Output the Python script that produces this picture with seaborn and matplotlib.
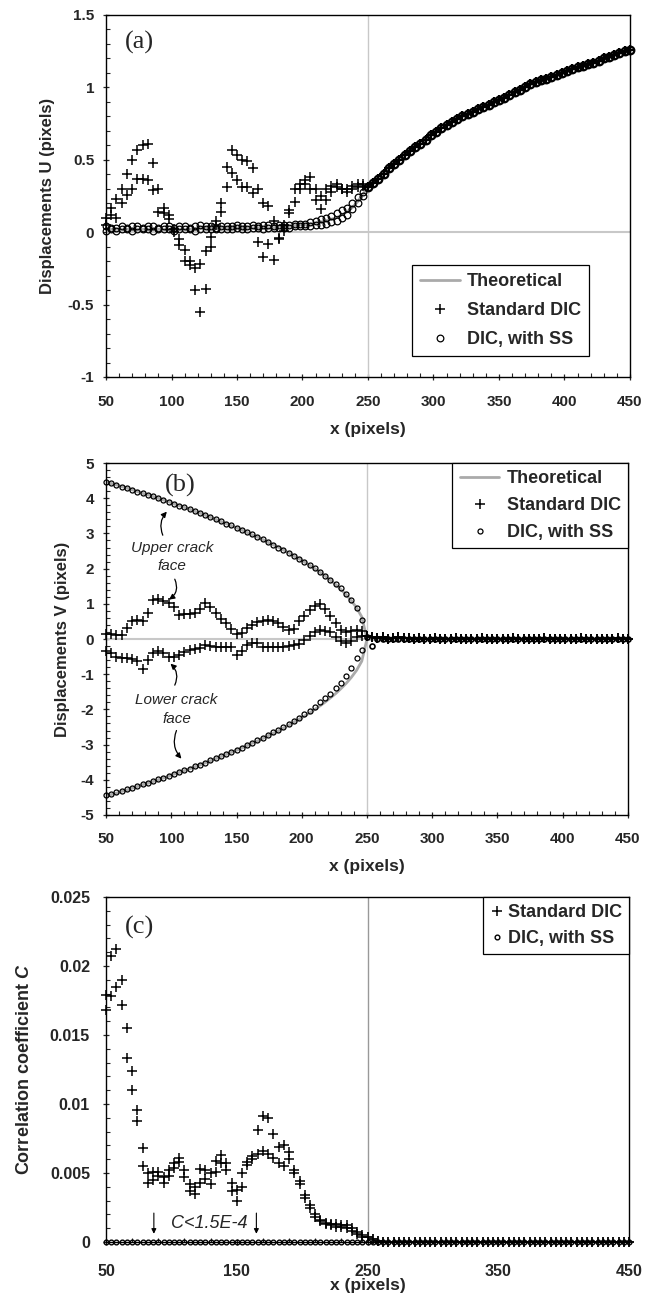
import numpy as np
import matplotlib
matplotlib.use("Agg")
import matplotlib.pyplot as plt
import seaborn as sns
from matplotlib.ticker import MultipleLocator, FuncFormatter

# pixel grid behind the crack tip (two faces) and ahead of it
x_behind = np.arange(50, 250, 4)
x_ahead = np.arange(250, 451, 4)

# ---- (a) displacement U ----
u_std_upper = [0.10, 0.17, 0.23, 0.30, 0.40, 0.50, 0.57, 0.60, 0.61, 0.48,
               0.30, 0.17, 0.12, 0.02, -0.05, -0.12, -0.20, -0.25, -0.22, -0.13,
               -0.03, 0.08, 0.20, 0.45, 0.57, 0.53, 0.50, 0.49, 0.44, 0.30,
               0.20, 0.18, 0.08, -0.04, 0.05, 0.15, 0.30, 0.33, 0.36, 0.38,
               0.30, 0.25, 0.30, 0.32, 0.33, 0.30, 0.30, 0.32, 0.33, 0.33]
u_std_lower = [0.05, 0.12, 0.10, 0.20, 0.26, 0.30, 0.37, 0.37, 0.36, 0.29,
               0.14, 0.13, 0.09, 0.00, -0.09, -0.20, -0.23, -0.40, -0.55, -0.39,
               -0.10, 0.05, 0.14, 0.31, 0.41, 0.36, 0.31, 0.31, 0.27, -0.07,
               -0.17, -0.08, -0.19, -0.05, 0.01, 0.13, 0.21, 0.30, 0.33, 0.30,
               0.22, 0.16, 0.22, 0.28, 0.31, 0.30, 0.28, 0.30, 0.31, 0.32]
u_ss_upper = [0.04, 0.03, 0.03, 0.04, 0.03, 0.04, 0.04, 0.03, 0.04, 0.04,
              0.03, 0.04, 0.04, 0.03, 0.04, 0.04, 0.03, 0.04, 0.05, 0.04,
              0.04, 0.03, 0.04, 0.04, 0.04, 0.05, 0.04, 0.04, 0.05, 0.04,
              0.05, 0.05, 0.04, 0.05, 0.05, 0.05, 0.06, 0.06, 0.06, 0.07,
              0.08, 0.09, 0.10, 0.11, 0.13, 0.15, 0.17, 0.20, 0.24, 0.28]
u_ss_lower = [0.01, 0.02, 0.01, 0.02, 0.02, 0.01, 0.02, 0.02, 0.02, 0.01,
              0.02, 0.02, 0.02, 0.01, 0.02, 0.02, 0.02, 0.01, 0.02, 0.02,
              0.02, 0.02, 0.02, 0.02, 0.02, 0.03, 0.02, 0.02, 0.03, 0.03,
              0.02, 0.03, 0.03, 0.03, 0.03, 0.03, 0.04, 0.04, 0.04, 0.04,
              0.05, 0.05, 0.06, 0.07, 0.08, 0.10, 0.12, 0.16, 0.20, 0.25]
u_theory_behind = [0.02, 0.02, 0.02, 0.02, 0.02, 0.02, 0.02, 0.02, 0.02, 0.02,
                   0.02, 0.02, 0.02, 0.02, 0.02, 0.02, 0.02, 0.02, 0.03, 0.03,
                   0.03, 0.03, 0.03, 0.03, 0.03, 0.03, 0.03, 0.03, 0.03, 0.03,
                   0.03, 0.03, 0.03, 0.04, 0.04, 0.04, 0.045, 0.05, 0.05, 0.055,
                   0.06, 0.07, 0.08, 0.09, 0.10, 0.12, 0.14, 0.17, 0.21, 0.26]
u_ahead = [0.31, 0.34, 0.37, 0.40, 0.44, 0.47, 0.50, 0.53, 0.56, 0.59,
           0.61, 0.64, 0.67, 0.69, 0.72, 0.74, 0.76, 0.78, 0.80, 0.815,
           0.83, 0.85, 0.865, 0.88, 0.90, 0.915, 0.93, 0.95, 0.965, 0.985,
           1.00, 1.02, 1.035, 1.05, 1.06, 1.07, 1.085, 1.10, 1.11, 1.125,
           1.14, 1.15, 1.16, 1.17, 1.185, 1.20, 1.21, 1.225, 1.235, 1.25, 1.26]

# ---- (b) displacement V ----
v_theory_upper = [4.47, 4.42, 4.38, 4.33, 4.29, 4.24, 4.19, 4.14, 4.10, 4.05,
                  4.00, 3.95, 3.90, 3.84, 3.79, 3.74, 3.69, 3.63, 3.58, 3.52,
                  3.46, 3.40, 3.34, 3.28, 3.22, 3.16, 3.10, 3.03, 2.96, 2.90,
                  2.83, 2.75, 2.68, 2.61, 2.53, 2.45, 2.36, 2.28, 2.19, 2.10,
                  2.00, 1.90, 1.79, 1.67, 1.55, 1.41, 1.26, 1.09, 0.89, 0.63]
v_theory_lower = [-4.47, -4.42, -4.38, -4.33, -4.29, -4.24, -4.19, -4.14, -4.10, -4.05,
                  -4.00, -3.95, -3.90, -3.84, -3.79, -3.74, -3.69, -3.63, -3.58, -3.52,
                  -3.46, -3.40, -3.34, -3.28, -3.22, -3.16, -3.10, -3.03, -2.96, -2.90,
                  -2.83, -2.75, -2.68, -2.61, -2.53, -2.45, -2.36, -2.28, -2.19, -2.10,
                  -2.00, -1.90, -1.79, -1.67, -1.55, -1.41, -1.26, -1.09, -0.89, -0.63]
v_ss_upper = [4.46, 4.42, 4.37, 4.33, 4.28, 4.24, 4.19, 4.15, 4.10, 4.05,
              4.00, 3.94, 3.90, 3.85, 3.79, 3.74, 3.69, 3.64, 3.58, 3.52,
              3.46, 3.41, 3.34, 3.28, 3.23, 3.16, 3.10, 3.04, 2.97, 2.90,
              2.83, 2.76, 2.68, 2.60, 2.53, 2.45, 2.37, 2.28, 2.19, 2.10,
              2.01, 1.91, 1.80, 1.69, 1.57, 1.44, 1.28, 1.10, 0.88, 0.55]
v_ss_lower = [-4.44, -4.40, -4.36, -4.31, -4.27, -4.22, -4.17, -4.12, -4.08, -4.03,
              -3.99, -3.94, -3.89, -3.84, -3.78, -3.73, -3.68, -3.62, -3.57, -3.51,
              -3.45, -3.39, -3.33, -3.27, -3.21, -3.15, -3.09, -3.02, -2.95, -2.88,
              -2.81, -2.73, -2.65, -2.58, -2.50, -2.42, -2.33, -2.24, -2.14, -2.04,
              -1.93, -1.80, -1.68, -1.55, -1.40, -1.24, -1.05, -0.82, -0.55, -0.30]
v_std_upper = [0.15, 0.15, 0.12, 0.12, 0.30, 0.50, 0.55, 0.50, 0.75, 1.10,
               1.15, 1.08, 1.02, 0.92, 0.68, 0.70, 0.72, 0.75, 0.85, 1.02,
               0.90, 0.75, 0.58, 0.45, 0.28, 0.15, 0.18, 0.30, 0.40, 0.47,
               0.52, 0.55, 0.52, 0.45, 0.33, 0.25, 0.28, 0.50, 0.65, 0.82,
               0.95, 1.00, 0.85, 0.65, 0.45, 0.25, 0.20, 0.22, 0.25, 0.22]
v_std_lower = [-0.35, -0.40, -0.50, -0.55, -0.55, -0.58, -0.62, -0.85, -0.60, -0.40,
               -0.35, -0.40, -0.50, -0.52, -0.45, -0.38, -0.32, -0.28, -0.25, -0.17,
               -0.20, -0.22, -0.22, -0.22, -0.24, -0.45, -0.35, -0.17, -0.10, -0.10,
               -0.22, -0.24, -0.22, -0.22, -0.22, -0.20, -0.18, -0.15, -0.02, 0.10,
               0.20, 0.25, 0.22, 0.20, 0.05, -0.05, -0.10, -0.05, 0.05, 0.10]
v_theory_ahead = [0.0] * 51
v_std_ahead = [0.10, 0.05, 0.02, 0.05, 0.00, 0.03, 0.05, 0.04, 0.02, 0.00,
               0.02, 0.01, 0.00, 0.02, 0.01, 0.00, 0.01, 0.02, 0.00, 0.01,
               0.00, 0.01, 0.02, 0.00, 0.01, 0.00, 0.01, 0.00, 0.02, 0.01,
               0.00, 0.01, 0.00, 0.01, 0.02, 0.00, 0.01, 0.00, 0.01, 0.00,
               0.01, 0.02, 0.00, 0.01, 0.00, 0.01, 0.00, 0.01, 0.02, 0.00, 0.01]
v_ss_ahead = [0.05, -0.20, 0.00] + [0.0] * 48

# ---- (c) correlation coefficient ----
c_std_upper = [0.0179, 0.0207, 0.0212, 0.0190, 0.0155, 0.0124, 0.0096, 0.0068, 0.0050, 0.0051,
               0.0051, 0.0047, 0.0052, 0.0057, 0.0061, 0.0052, 0.0042, 0.0040, 0.0053, 0.0052,
               0.0050, 0.0059, 0.0063, 0.0057, 0.0043, 0.0038, 0.0050, 0.0058, 0.0062, 0.0081,
               0.0091, 0.0090, 0.0078, 0.0069, 0.0070, 0.0065, 0.0052, 0.0044, 0.0034, 0.0027,
               0.0020, 0.0016, 0.0014, 0.0013, 0.0013, 0.0012, 0.0012, 0.0010, 0.0007, 0.0005]
c_std_lower = [0.0168, 0.0178, 0.0185, 0.0172, 0.0133, 0.0110, 0.0088, 0.0055, 0.0043, 0.0045,
               0.0048, 0.0043, 0.0048, 0.0054, 0.0058, 0.0047, 0.0037, 0.0035, 0.0043, 0.0046,
               0.0042, 0.0051, 0.0057, 0.0052, 0.0037, 0.0030, 0.0040, 0.0056, 0.0060, 0.0064,
               0.0066, 0.0064, 0.0061, 0.0057, 0.0055, 0.0060, 0.0050, 0.0042, 0.0032, 0.0025,
               0.0018, 0.0015, 0.0013, 0.0012, 0.0011, 0.0011, 0.0010, 0.0008, 0.0006, 0.0004]
c_std_ahead = [0.0004, 0.0002, 0.0001] + [0.0] * 48
c_ss_behind = [0.0] * 50
c_ss_ahead = [0.0] * 51
c_xticks = [50, 150, 250, 350, 450]

sns.set_style("ticks")
plt.rcParams['font.family'] = ['Liberation Sans', 'DejaVu Sans']
plt.rcParams['font.weight'] = 'bold'
plt.rcParams['axes.labelweight'] = 'bold'
plt.rcParams['mathtext.fontset'] = 'custom'
plt.rcParams['mathtext.it'] = 'Liberation Sans:italic:bold'
plt.rcParams['mathtext.rm'] = 'Liberation Sans:bold'

GREY = '#aaaaaa'


def theory(ax, x, y, label=None):
    sns.lineplot(x=x, y=y, ax=ax, color=GREY, linewidth=2.0, estimator=None,
                 sort=False, label=label, legend=False, zorder=2)


def marks(ax, x, y, marker, size, label=None, mew=1.1):
    kws = dict(marker=marker, markersize=size, linestyle='', color='k',
               mec='k', mew=mew, clip_on=False, zorder=3)
    if marker == 'o':
        kws['mfc'] = 'none'
    sns.lineplot(x=x, y=y, ax=ax, estimator=None, sort=False, label=label,
                 legend=False, **kws)


def style_axes(ax, ylim, ymaj, ymin, xmaj, xmin, ypad, xpad):
    ax.set_xlim(50, 450)
    ax.set_ylim(*ylim)
    ax.xaxis.set_major_locator(MultipleLocator(xmaj))
    ax.xaxis.set_minor_locator(MultipleLocator(xmin))
    ax.yaxis.set_major_locator(MultipleLocator(ymaj))
    ax.yaxis.set_minor_locator(MultipleLocator(ymin))
    ax.yaxis.set_major_formatter(FuncFormatter(lambda v, p: f'{v:g}'))
    ax.xaxis.set_major_formatter(FuncFormatter(lambda v, p: f'{v:g}'))
    ax.tick_params(which='major', direction='inout', length=5, width=0.9,
                   labelsize=11, top=False, right=False)
    ax.tick_params(which='minor', direction='in', length=3, width=0.8,
                   top=False, right=False)
    ax.tick_params(axis='y', which='major', pad=ypad)
    ax.tick_params(axis='x', which='major', pad=xpad)
    for s in ax.spines.values():
        s.set_visible(True)
        s.set_linewidth(1.0)
        s.set_color('k')


def add_legend(ax, **kw):
    leg = ax.legend(frameon=True, fancybox=False, edgecolor='k', framealpha=1,
                    numpoints=1, prop={'weight': 'bold', 'size': 13}, **kw)
    leg.get_frame().set_linewidth(0.9)
    return leg


fig = plt.figure(figsize=(6.46, 13.04), dpi=100)
ax_a = fig.add_axes([0.1641, 0.7109, 0.8111, 0.2776])
ax_b = fig.add_axes([0.1641, 0.3750, 0.8080, 0.2699])
ax_c = fig.add_axes([0.1641, 0.0475, 0.8096, 0.2646])

# ---- panel (a) ----
ax_a.axvline(250, color='#c8c8c8', lw=1, zorder=1)
ax_a.axhline(0, color='#c8c8c8', lw=1.5, zorder=1)
theory(ax_a, list(x_behind) + list(x_ahead), u_theory_behind + u_ahead, 'Theoretical')
marks(ax_a, x_behind, u_std_upper, '+', 7, 'Standard DIC')
marks(ax_a, x_behind, u_std_lower, '+', 7)
marks(ax_a, x_ahead, u_ahead, '+', 7.5, mew=1.6)
marks(ax_a, x_behind, u_ss_upper, 'o', 4.8, 'DIC, with SS', mew=0.9)
marks(ax_a, x_behind, u_ss_lower, 'o', 4.8, mew=0.9)
marks(ax_a, x_ahead, u_ahead, 'o', 5.5, mew=1.6)
style_axes(ax_a, (-1, 1.5), 0.5, 0.1, 50, 10, 6, 10.5)
ax_a.set_ylabel('Displacements U (pixels)', fontsize=12)
ax_a.set_xlabel('x (pixels)', fontsize=12.5)
ax_a.yaxis.set_label_coords(-0.097, 0.5)
ax_a.xaxis.set_label_coords(0.5, -0.125)
ax_a.text(0.036, 0.925, '(a)', transform=ax_a.transAxes, family='Liberation Serif',
          fontweight='normal', fontsize=19, va='center', ha='left')
add_legend(ax_a, loc='lower right', bbox_to_anchor=(0.922, 0.058), borderaxespad=0,
           handlelength=2.2, handletextpad=0.4, labelspacing=0.65, borderpad=0.45)

# ---- panel (b) ----
ax_b.axvline(250, color='#c8c8c8', lw=1, zorder=1)
ax_b.axhline(0, color='#c8c8c8', lw=1.5, zorder=1)
theory(ax_b, list(x_behind) + list(x_ahead), v_theory_upper + v_theory_ahead, 'Theoretical')
theory(ax_b, list(x_behind) + list(x_ahead), v_theory_lower + v_theory_ahead)
marks(ax_b, x_behind, v_std_upper, '+', 6.5, 'Standard DIC')
marks(ax_b, x_behind, v_std_lower, '+', 6.5)
marks(ax_b, x_ahead, v_std_ahead, '+', 6.5, mew=1.4)
marks(ax_b, x_behind, v_ss_upper, 'o', 3.6, 'DIC, with SS', mew=0.9)
marks(ax_b, x_behind, v_ss_lower, 'o', 3.6, mew=0.9)
marks(ax_b, x_ahead, v_ss_ahead, 'o', 3.6, mew=1.2)
style_axes(ax_b, (-5, 5), 1, 0.2, 50, 10, 6, 10)
ax_b.set_ylabel('Displacements V (pixels)', fontsize=12)
ax_b.set_xlabel('x (pixels)', fontsize=12.5)
ax_b.yaxis.set_label_coords(-0.069, 0.5)
ax_b.xaxis.set_label_coords(0.5, -0.125)
ax_b.text(0.113, 0.9375, '(b)', transform=ax_b.transAxes, family='Liberation Serif',
          fontweight='normal', fontsize=19, va='center', ha='left')
add_legend(ax_b, loc='upper right', bbox_to_anchor=(1, 1), borderaxespad=0,
           handlelength=2.2, handletextpad=0.4, labelspacing=0.55, borderpad=0.4)

note = dict(ha='center', va='center', style='italic', fontweight='normal',
            fontsize=11, linespacing=1.45)
ax_b.text(100.4, 2.33, 'Upper crack\nface', **note)
ax_b.text(104.0, -1.99, 'Lower crack\nface', **note)
arrow = dict(arrowstyle='-|>', color='k', lw=0.9, mutation_scale=8, shrinkA=0, shrinkB=0)
ax_b.annotate('', xy=(96.6, 3.62), xytext=(93.5, 2.95),
              arrowprops=dict(connectionstyle='arc3,rad=-0.3', **arrow))
ax_b.annotate('', xy=(98.3, 1.12), xytext=(102.7, 1.70),
              arrowprops=dict(connectionstyle='arc3,rad=-0.4', **arrow))
ax_b.annotate('', xy=(99.4, -0.70), xytext=(102.7, -1.31),
              arrowprops=dict(connectionstyle='arc3,rad=0.35', **arrow))
ax_b.annotate('', xy=(107.8, -3.40), xytext=(104.0, -2.60),
              arrowprops=dict(connectionstyle='arc3,rad=0.3', **arrow))

# ---- panel (c) ----
ax_c.axvline(250, color='#999999', lw=1, zorder=1)
marks(ax_c, x_behind, c_std_upper, '+', 7, 'Standard DIC')
marks(ax_c, x_behind, c_std_lower, '+', 7)
marks(ax_c, x_ahead, c_std_ahead, '+', 7, mew=1.3)
marks(ax_c, x_behind, c_ss_behind, 'o', 3.4, 'DIC, with SS', mew=1.0)
marks(ax_c, x_ahead, c_ss_ahead, 'o', 3.4, mew=1.0)
style_axes(ax_c, (0, 0.025), 0.005, 0.001, 100, 20, 9, 13)
ax_c.set_xticks(c_xticks)
ax_c.xaxis.set_minor_locator(MultipleLocator(20, offset=10))
ax_c.tick_params(labelsize=11.5)
ax_c.set_ylabel(r'Correlation coefficient $\mathit{C}$', fontsize=13)
ax_c.set_xlabel('x (pixels)', fontsize=12.5)
ax_c.yaxis.set_label_coords(-0.14, 0.5)
ax_c.xaxis.set_label_coords(0.5, -0.104)
ax_c.text(0.036, 0.913, '(c)', transform=ax_c.transAxes, family='Liberation Serif',
          fontweight='normal', fontsize=19, va='center', ha='left')
add_legend(ax_c, loc='upper right', bbox_to_anchor=(1, 1), borderaxespad=0,
           handlelength=0.7, handletextpad=0.25, labelspacing=0.5, borderpad=0.4)
ax_c.text(129.2, 0.00138, 'C<1.5E-4', ha='center', va='center', style='italic',
          fontweight='normal', fontsize=13)
small_arrow = dict(arrowstyle='-|>', color='k', lw=0.8, mutation_scale=7, shrinkA=0, shrinkB=0)
ax_c.annotate('', xy=(86.6, 0.0006), xytext=(86.6, 0.0021), arrowprops=small_arrow)
ax_c.annotate('', xy=(165.0, 0.0006), xytext=(165.0, 0.0021), arrowprops=small_arrow)

fig.savefig('out.png', dpi=100)
